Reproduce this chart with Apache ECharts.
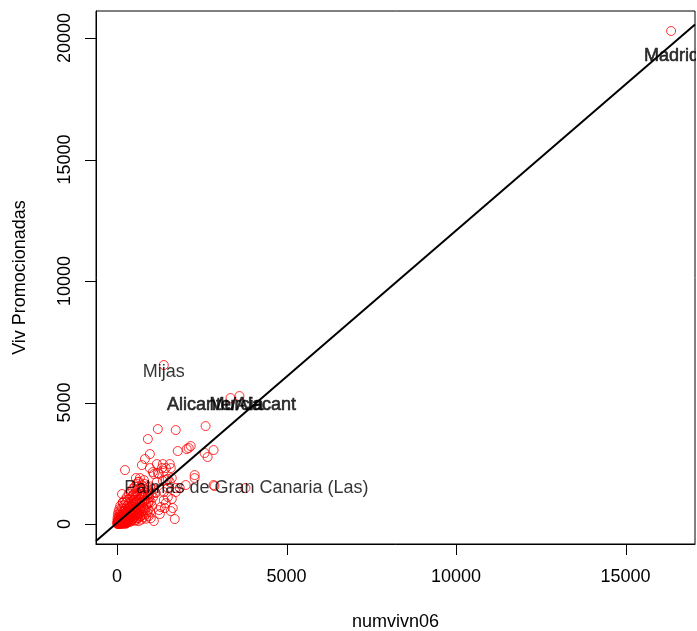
<!DOCTYPE html>
<html>
<head>
<meta charset="utf-8">
<script src="https://cdn.jsdelivr.net/npm/echarts@6/dist/echarts.min.js"></script>
<style>
html, body { margin: 0; padding: 0; background: #fff; }
#main { width: 697px; height: 631px; }
</style>
</head>
<body>
<div id="main"></div>
<script>
// numvivn06 (x) and Viv Promocionadas (y)
var numvivn06 = [
	1380, 3347, 3611, 1204, 1732, 2613, 910, 2173, 2055, 1791, 2848, 2672, 969, 822, 734, 235,
	1174, 1351, 1556, 1321, 1585, 1380, 969, 1204, 1086, 558, 1497, 2290, 2290, 2848, 3787, 2026,
	1732, 1497, 1380, 1615, 1585, 1703, 1292, 1380, 1145, 16345, 2114, 2584, 1615, 1556, 1850, 2877,
	1732, 1497, 1644, 1439, 1233, 1057, 675, 617, 793, 1174, 1351, 1439, 147, 176, 470, 499,
	910, 940, 1262, 1086, 1409, 1439, 1233,
	20, 35, 50, 60, 75, 90, 100, 110, 120, 130, 140, 150, 160, 170, 180, 190, 200, 210, 220, 230,
	240, 250, 260, 270, 280, 290, 300, 310, 320, 330, 340, 350, 360, 370, 380, 390, 400, 410, 420, 430,
	440, 450, 460, 470, 480, 490, 500, 510, 520, 530, 540, 550, 560, 570, 580, 590, 600, 610, 620, 630,
	640, 650, 660, 680, 700, 720, 740, 760, 780, 800, 820, 850, 870, 900, 930, 960, 1000, 1030, 1060,
	15, 25, 45, 55, 70, 85, 95, 125, 145, 165, 185, 205, 225, 245, 265, 285, 305, 325, 345, 365,
	385, 405, 425, 445, 465, 485, 505, 525, 545, 565, 585, 605, 625, 645, 665, 690, 710, 730, 750, 790,
	810, 840, 880, 920, 980, 1020, 1080, 1120,
	10, 30, 40, 65, 80, 105, 115, 135, 155, 175, 195, 215, 235, 255, 275, 295, 315, 335, 355, 375,
	395, 415, 435, 455, 475, 495, 515, 535, 555, 575, 595, 615, 635, 655, 675, 695, 715, 735, 755, 775,
	795, 815, 835, 855, 875, 895, 915, 935, 955, 975, 995,
	5, 12, 28, 42, 58, 72, 88, 102, 118, 132, 148, 162, 178, 192, 208, 222, 238, 252, 268, 282
];
var vivPromocionadas = [
	6543, 5185, 5267, 3909, 3868, 4033, 3498, 3210, 3086, 3004, 3045, 2757, 2881, 2675, 2428, 2222,
	2469, 2469, 2469, 2304, 2304, 2181, 2304, 2099, 2058, 1893, 1852, 2016, 1893, 1605, 1481, 1605,
	1481, 1481, 1317, 1029, 535, 206, 700, 988, 1276, 20287, 3127, 2922, 1893, 1728, 1481, 1564,
	1317, 1111, 658, 2304, 2058, 2140, 1893, 1728, 1811, 1728, 1769, 1811, 1235, 905, 1193, 988,
	1193, 905, 412, 123, 658, 864, 576,
	30, 80, 150, 40, 110, 200, 60, 280, 140, 20, 90, 220, 330, 170, 60, 260, 400, 120, 310, 190,
	40, 450, 250, 350, 130, 520, 210, 410, 80, 600, 300, 480, 170, 380, 680, 250, 550, 110, 440, 750,
	330, 620, 200, 500, 820, 390, 700, 270, 580, 900, 450, 760, 150, 650, 980, 360, 520, 840, 240, 700,
	1050, 430, 600, 900, 320, 750, 1100, 500, 650, 950, 1200, 400, 800, 1050, 600, 1300, 900, 750, 1100,
	250, 400, 520, 320, 620, 450, 750, 520, 650, 880, 500, 780, 980, 640, 880, 1100, 760, 1000, 1250, 850,
	1050, 1350, 950, 1150, 1450, 1000, 1250, 1550, 1150, 1350, 1650, 1250, 1450, 1750, 1200, 1500, 1350, 1600, 1250, 1450,
	1650, 1300, 1550, 1400, 1550, 1250, 1450, 1300,
	120, 180, 10, 260, 10, 170, 380, 300, 50, 420, 30, 230, 560, 100, 480, 60, 320, 180, 650, 90,
	470, 720, 150, 400, 260, 600, 140, 350, 900, 230, 1000, 420, 120, 800, 300, 620, 180, 900, 380, 1150,
	280, 560, 1000, 220, 700, 480, 850, 320, 1100, 500, 240,
	15, 60, 5, 35, 90, 20, 45, 10, 70, 30, 55, 15, 100, 40, 25, 75, 50, 10, 130, 35
];

// labelled municipalities
var labelNames = ['Madrid', 'Mijas', 'Alicante/Alacant', 'Murcia', 'Palmas de Gran Canaria (Las)'];
var labelX = [16360, 1380, 3376, 3523, 3817];
var labelY = [19259, 6255, 4897, 4897, 1481];
// these look overprinted (heavier) in the original
var heavyLabels = ['Madrid', 'Alicante/Alacant', 'Murcia'];

// fitted line y = a + b x
var lineIntercept = 48;
var lineSlope = 1.2026;

var xTicks = [0, 5000, 10000, 15000];
var yTicks = [0, 5000, 10000, 15000, 20000];
var xMin = -620, xMax = 17050;
var yMin = -820, yMax = 21110;

var font = 'Liberation Sans, Arial, Helvetica, sans-serif';
var tickLen = 11;

var points = [];
for (var i = 0; i < numvivn06.length; i++) {
	points.push([numvivn06[i], vivPromocionadas[i]]);
}
var labels = [];
for (var j = 0; j < labelNames.length; j++) {
	var item = { name: labelNames[j], value: [labelX[j], labelY[j]] };
	if (heavyLabels.indexOf(labelNames[j]) >= 0) {
		item.label = { textBorderColor: '#000', textBorderWidth: 0.6 };
	}
	labels.push(item);
}
var fitLine = [
	[xMin, lineIntercept + lineSlope * xMin],
	[xMax, lineIntercept + lineSlope * xMax]
];

function plain(v) {
	return String(v);
}

// R clips text to the plot box; hide what runs past the right border
var edgeMask = {
	id: 'edgeMask',
	type: 'rect',
	shape: { x: 696, y: 0, width: 2, height: 631 },
	style: { fill: '#fff' },
	z: 100
};

var myChart = echarts.init(document.getElementById('main'), null, { renderer: 'canvas' });
var option = {
	animation: false,
	backgroundColor: '#fff',
	grid: {
		left: 96,
		right: 2,
		top: 11,
		bottom: 87,
		outerBoundsMode: 'none',
		containLabel: false,
		show: true,
		borderColor: '#000',
		borderWidth: 1,
		backgroundColor: 'transparent'
	},
	graphic: { elements: [edgeMask] },
	xAxis: {
		type: 'value',
		min: xMin,
		max: xMax,
		name: 'numvivn06',
		nameLocation: 'middle',
		nameGap: 69,
		nameTextStyle: { fontSize: 18, color: '#000', fontFamily: font },
		axisLine: { show: true, onZero: false, lineStyle: { color: '#000', width: 1 } },
		splitLine: { show: false },
		axisTick: { show: false },
		axisLabel: {
			customValues: xTicks,
			formatter: plain,
			margin: 24,
			fontSize: 18,
			color: '#000',
			fontFamily: font
		}
	},
	yAxis: {
		type: 'value',
		min: yMin,
		max: yMax,
		name: 'Viv Promocionadas',
		nameLocation: 'middle',
		nameGap: 67,
		nameTextStyle: { fontSize: 18, color: '#000', fontFamily: font },
		axisLine: { show: true, onZero: false, lineStyle: { color: '#000', width: 1 } },
		splitLine: { show: false },
		axisTick: { show: false },
		axisLabel: {
			customValues: yTicks,
			formatter: plain,
			rotate: 90,
			margin: 22,
			fontSize: 18,
			color: '#000',
			fontFamily: font
		}
	},
	series: [{
		type: 'scatter',
		data: points,
		symbol: 'circle',
		symbolSize: 9,
		itemStyle: {
			color: 'transparent',
			borderColor: '#ff0000',
			borderWidth: 1
		},
		z: 2
	}, {
		type: 'line',
		data: fitLine,
		symbol: 'none',
		clip: true,
		lineStyle: { color: '#000', width: 2 },
		z: 3
	}, {
		type: 'scatter',
		data: labels,
		symbolSize: 1,
		itemStyle: { color: 'transparent' },
		label: {
			show: true,
			position: 'inside',
			formatter: '{b}',
			fontSize: 18,
			color: '#000',
			fontFamily: font
		},
		z: 4
	}]
};
myChart.setOption(option);

// R style ticks hanging outside the box, placed with the axes' own scales
try {
	var tickEls = [edgeMask];
	var bottomY = myChart.convertToPixel({ yAxisIndex: 0 }, yMin);
	var leftX = myChart.convertToPixel({ xAxisIndex: 0 }, xMin);
	xTicks.forEach(function (v, k) {
		var px = myChart.convertToPixel({ xAxisIndex: 0 }, v);
		if (isFinite(px) && isFinite(bottomY)) {
			var x = Math.round(px) + 0.5;
			tickEls.push({
				id: 'xt' + k,
				type: 'line',
				silent: true,
				shape: { x1: x, y1: bottomY, x2: x, y2: bottomY + tickLen },
				style: { stroke: '#000', lineWidth: 1 },
				z: 50
			});
		}
	});
	yTicks.forEach(function (v, k) {
		var py = myChart.convertToPixel({ yAxisIndex: 0 }, v);
		if (isFinite(py) && isFinite(leftX)) {
			var y = Math.round(py) + 0.5;
			tickEls.push({
				id: 'yt' + k,
				type: 'line',
				silent: true,
				shape: { x1: leftX - tickLen, y1: y, x2: leftX, y2: y },
				style: { stroke: '#000', lineWidth: 1 },
				z: 50
			});
		}
	});
	myChart.setOption({ graphic: { elements: tickEls } });
} catch (e) {
	// keep the chart as drawn if the conversion is unavailable
}
window.onresize = myChart.resize;
</script>
</body>
</html>
